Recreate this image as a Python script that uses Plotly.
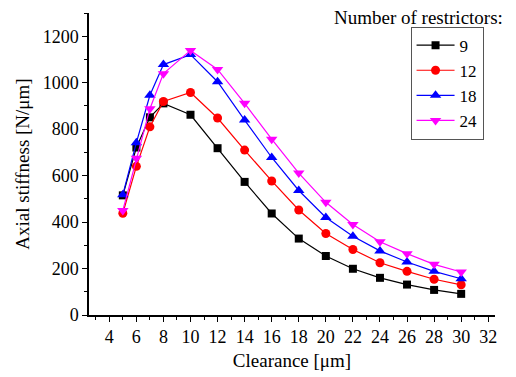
import plotly.graph_objects as go

clearance = [5, 6, 7, 8, 10, 12, 14, 16, 18, 20, 22, 24, 26, 28, 30]
stiff_9 = [515, 721, 851, 911, 862, 718, 573, 437, 329, 254, 199, 160, 131, 108, 91]
stiff_12 = [438, 640, 810, 919, 958, 848, 710, 577, 452, 351, 282, 225, 188, 154, 130]
stiff_18 = [518, 742, 946, 1078, 1121, 1004, 839, 678, 536, 420, 339, 276, 228, 188, 156]
stiff_24 = [450, 675, 888, 1039, 1139, 1057, 911, 757, 611, 485, 390, 315, 264, 218, 185]

series = [
    ("9", stiff_9, "#000000", "square", 8),
    ("12", stiff_12, "#FF0000", "circle", 9),
    ("18", stiff_18, "#0000FF", "triangle-up", 10),
    ("24", stiff_24, "#FF00FF", "triangle-down", 10),
]

FONT = "Liberation Serif"

fig = go.Figure()
for name, vals, color, sym, sz in series:
    fig.add_trace(go.Scatter(
        x=clearance, y=vals, name=name, mode="lines+markers",
        line=dict(color=color, width=1.2),
        marker=dict(symbol=sym, size=sz, color=color),
    ))

axis_common = dict(
    showline=True, linecolor="black", linewidth=1.5, mirror=False,
    ticks="outside", ticklen=5, tickwidth=1.2, tickcolor="black",
    showgrid=False, zeroline=False, automargin=False,
    tickfont=dict(family=FONT, size=18, color="black"),
)

fig.update_xaxes(
    range=[2.5, 32.5], tick0=4, dtick=2,
    minor=dict(ticks="outside", ticklen=3, dtick=1, tick0=3, tickcolor="black", tickwidth=1),
    title=dict(text="Clearance [μm]", font=dict(family=FONT, size=19, color="black"), standoff=7),
    **axis_common,
)
fig.update_yaxes(
    range=[0, 1300], tick0=0, dtick=200,
    minor=dict(ticks="outside", ticklen=3, dtick=100, tick0=0, tickcolor="black", tickwidth=1),
    title=dict(text="Axial stiffness [N/μm]", font=dict(family=FONT, size=19, color="black"), standoff=8),
    **axis_common,
)

fig.add_annotation(
    text="Number of restrictors:", xref="paper", yref="paper",
    x=1.025, y=0.986, xanchor="right", yanchor="middle", showarrow=False,
    font=dict(family=FONT, size=19, color="black"),
)

fig.update_layout(
    width=508, height=369,
    margin=dict(l=81, r=21, t=5, b=62, autoexpand=False),
    paper_bgcolor="white", plot_bgcolor="white",
    font=dict(family=FONT, color="black"),
    legend=dict(
        x=0.792, y=0.955, xanchor="left", yanchor="top",
        bordercolor="#555555", borderwidth=1, bgcolor="white",
        font=dict(family=FONT, size=17, color="black"),
        tracegroupgap=0, itemwidth=38,
    ),
    showlegend=True,
)

fig.write_html("out.html")
